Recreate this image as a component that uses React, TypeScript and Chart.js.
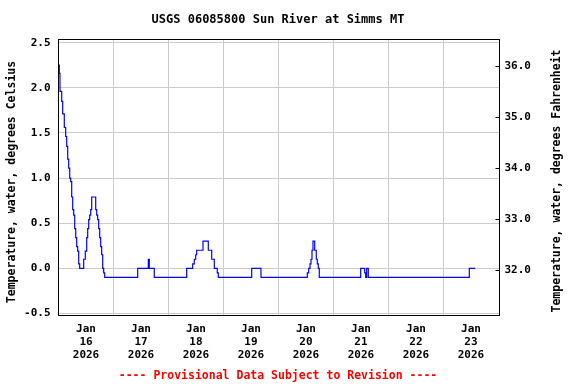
import React, { useEffect, useRef } from 'react';
import { Chart, registerables } from 'chart.js';

Chart.register(...registerables);

const TITLE = 'USGS 06085800 Sun River at Simms MT';
const LEFT_TITLE = 'Temperature, water, degrees Celsius';
const RIGHT_TITLE = 'Temperature, water, degrees Fahrenheit';
const FOOTER = '---- Provisional Data Subject to Revision ----';

const MONTH_LABEL = 'Jan';
const YEAR_LABEL = '2026';
const DAY_LABELS = ['16', '17', '18', '19', '20', '21', '22', '23'];

// hours since Jan 16 2026 00:00 at which the reading changes
const HOURS = [
  0.22, 0.35, 0.65, 1.4, 1.83, 2.53, 3.14, 3.58, 4.01, 4.45, 4.89, 5.32, 5.76, 6.2, 6.63, 7.07, 7.51, 7.94,
  8.38, 8.81, 9.25, 11.0, 11.69, 12.31, 12.74, 13.18, 13.61, 14.05, 14.49, 16.23, 16.67, 17.11, 17.54, 17.98,
  18.41, 18.85, 19.29, 19.72, 20.16, 34.56, 39.19, 39.62, 41.8, 55.94, 58.56, 59.26, 59.87, 60.31, 63.05,
  65.37, 66.85, 67.99, 69.29, 69.73, 84.31, 88.36, 108.57, 109.18, 109.75, 110.18, 110.62, 111.05, 111.8,
  112.49, 112.93, 113.37, 113.8, 131.87, 133.61, 134.05, 134.49, 135.19, 179.26, 181.88,
];
// water temperature, degrees Celsius
const TEMP_C = [
  2.25, 2.16, 1.96, 1.85, 1.71, 1.56, 1.46, 1.35, 1.21, 1.11, 1.0, 0.96, 0.79, 0.65, 0.59, 0.44, 0.34, 0.24,
  0.19, 0.05, 0.0, 0.1, 0.19, 0.34, 0.44, 0.54, 0.59, 0.65, 0.79, 0.65, 0.59, 0.54, 0.44, 0.34,
  0.24, 0.15, 0.0, -0.05, -0.1, 0.0, 0.1, 0.0, -0.1, 0.0, 0.05, 0.1, 0.15, 0.2, 0.3,
  0.2, 0.1, 0.0, -0.05, -0.1, 0.0, -0.1, -0.05, 0.0, 0.05, 0.1, 0.2, 0.3, 0.2,
  0.1, 0.05, 0.0, -0.1, 0.0, -0.05, -0.1, 0.0, -0.1, 0.0, 0.0,
];

const C_TICKS = [-0.5, 0, 0.5, 1, 1.5, 2, 2.5];
const F_TICKS = [32, 33, 34, 35, 36];
const X_TICKS = [0, 12, 24, 36, 48, 60, 72, 84, 96, 108, 120, 132, 144, 156, 168, 180];

const FONT_FAMILY = '"DejaVu Sans Mono", monospace';

const decorPlugin = {
  id: 'decor',
  afterDraw(chart: any) {
    const { ctx, chartArea: a } = chart;
    ctx.save();
    ctx.strokeStyle = '#000000';
    ctx.lineWidth = 1;
    ctx.strokeRect(a.left, a.top, a.right - a.left, a.bottom - a.top);
    const yF = chart.scales.yF;
    F_TICKS.forEach((v) => {
      const p = Math.round(yF.getPixelForValue(v) - 0.5) + 0.5;
      ctx.beginPath();
      ctx.moveTo(a.right - 4, p);
      ctx.lineTo(a.right, p);
      ctx.stroke();
    });
    ctx.fillStyle = '#000000';
    ctx.textAlign = 'center';
    ctx.textBaseline = 'middle';
    ctx.font = `bold 12px ${FONT_FAMILY}`;
    ctx.fillText(TITLE, 278, 20);
    ctx.font = `bold 11.5px ${FONT_FAMILY}`;
    ctx.save();
    ctx.translate(12, 182);
    ctx.rotate(-Math.PI / 2);
    ctx.fillText(LEFT_TITLE, 0, 0);
    ctx.restore();
    ctx.save();
    ctx.translate(557, 181);
    ctx.rotate(-Math.PI / 2);
    ctx.fillText(RIGHT_TITLE, 0, 0);
    ctx.restore();
    ctx.fillStyle = '#ff0000';
    ctx.fillText(FOOTER, 278, 376);
    ctx.restore();
  },
};

export default function App() {
  const canvasRef = useRef<HTMLCanvasElement | null>(null);

  useEffect(() => {
    const canvas = canvasRef.current;
    if (!canvas) return;
    const tickFont = { family: FONT_FAMILY, size: 11, weight: 'bold' as const, lineHeight: '13px' };
    const chart = new Chart(canvas, {
      type: 'line',
      data: {
        datasets: [
          {
            data: HOURS.map((h, i) => ({ x: h, y: TEMP_C[i] })),
            borderColor: '#0000ff',
            borderWidth: 1.2,
            pointRadius: 0,
            stepped: 'before',
            fill: false,
            xAxisID: 'x',
            yAxisID: 'yC',
          },
        ],
      },
      options: {
        responsive: false,
        animation: false,
        devicePixelRatio: 1,
        layout: { padding: { top: 39.5, left: 0, right: 0, bottom: 0 } },
        plugins: { legend: { display: false }, title: { display: false }, tooltip: { enabled: false } },
        scales: {
          x: {
            type: 'linear',
            position: 'bottom',
            min: 0,
            max: 192.44,
            afterBuildTicks: (s: any) => {
              s.ticks = X_TICKS.map((v) => ({ value: v }));
            },
            afterFit: (s: any) => {
              s.height = 68.5;
            },
            grid: {
              color: (c: any) => (c.tick && c.tick.value % 24 === 0 ? '#cccccc' : 'rgba(0,0,0,0)'),
              lineWidth: 1,
              drawTicks: false,
            },
            border: { display: false },
            ticks: {
              autoSkip: false,
              maxRotation: 0,
              minRotation: 0,
              padding: 7.5,
              color: '#000000',
              font: tickFont,
              callback: (v: any) => {
                const n = Number(v);
                if (n % 24 !== 12) return '';
                return [MONTH_LABEL, DAY_LABELS[(n - 12) / 24], YEAR_LABEL];
              },
            },
          },
          yC: {
            type: 'linear',
            position: 'left',
            min: -0.523,
            max: 2.535,
            afterBuildTicks: (s: any) => {
              s.ticks = C_TICKS.map((v) => ({ value: v }));
            },
            afterFit: (s: any) => {
              s.width = 58.5;
            },
            grid: { color: '#cccccc', lineWidth: 1, drawTicks: false },
            border: { display: false },
            ticks: {
              padding: 8,
              color: '#000000',
              font: tickFont,
              callback: (v: any) => Number(v).toFixed(1),
            },
          },
          yF: {
            type: 'linear',
            position: 'right',
            min: 31.114,
            max: 36.525,
            afterBuildTicks: (s: any) => {
              s.ticks = F_TICKS.map((v) => ({ value: v }));
            },
            afterFit: (s: any) => {
              s.width = 76.5;
            },
            grid: { drawOnChartArea: false, drawTicks: false },
            border: { display: false },
            ticks: {
              padding: 5,
              color: '#000000',
              font: tickFont,
              callback: (v: any) => Number(v).toFixed(1),
            },
          },
        },
      },
      plugins: [decorPlugin],
    } as any);
    return () => {
      chart.destroy();
    };
  }, []);

  return (
    <div style={{ position: 'absolute', left: 0, top: 0, width: 576, height: 384, background: '#ffffff' }}>
      <canvas ref={canvasRef} width={576} height={384} style={{ width: 576, height: 384 }} />
    </div>
  );
}
